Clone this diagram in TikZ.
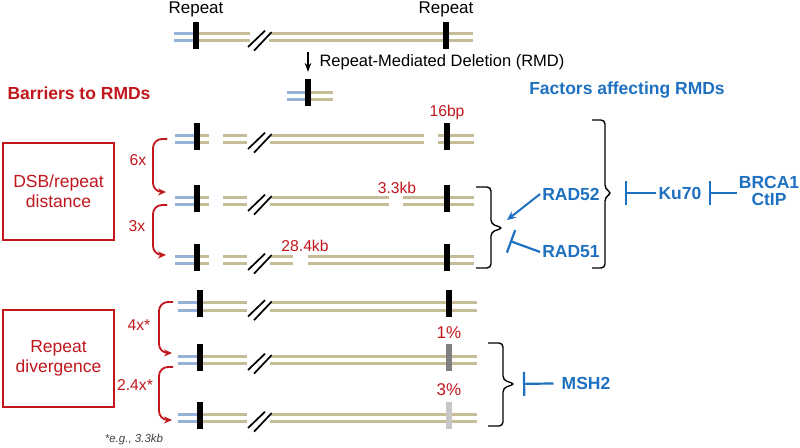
\documentclass[tikz,border=0pt]{standalone}
\usepackage{fontspec}
\setmainfont{Liberation Sans}
\usetikzlibrary{arrows.meta,positioning}
\definecolor{rmdred}{RGB}{192,22,28}
\definecolor{rmdblue}{RGB}{30,112,192}
\definecolor{strandtan}{RGB}{196,189,151}
\definecolor{strandblue}{RGB}{149,179,215}
\tikzset{>=Stealth}

\begin{document}
\begin{tikzpicture}[x=1pt, y=-1pt, font=\fontsize{17}{19}\selectfont,
	duplex/.style={draw=strandtan, line width=2.6pt, double=white, double distance=4.9pt},
	flank/.style={duplex, draw=strandblue},
	repeatbar/.style={fill=#1, draw=none, minimum width=6.5pt, minimum height=27pt, inner sep=0pt},
	repeatbar/.default=black,
	dnabreak/.pic={\draw[line width=1.7pt] (-11,10) -- (6,-6.3) (-5,13.7) -- (12.7,-5);},
	sizelabel/.style={text=rmdred, font=\fontsize{15.7}{18}\selectfont, inner sep=1pt},
	barrierbox/.style={draw=rmdred, line width=1.8pt, text=rmdred, minimum width=111pt,
		minimum height=97pt, align=center, font=\fontsize{17.5}{20}\selectfont},
	foldarrow/.style={draw=rmdred, line width=1.8pt, rounded corners=9pt, -{Stealth[length=8pt,width=7pt]}},
	factor/.style={text=rmdblue, font=\fontsize{17.5}{17}\selectfont\bfseries, inner sep=2pt},
	promote/.style={draw=rmdblue, line width=2pt, -{Stealth[length=9pt,width=8pt]}},
	inhibit/.style={draw=rmdblue, line width=2.2pt, -{Bar[width=24pt]}},
	bracket/.style={draw=black, line width=1.4pt, rounded corners=4pt}]
	\useasboundingbox (0,0) rectangle (800,447);

	% starting molecule and the deletion product
	\draw[flank]  (174,37) -- (196,37);
	\draw[duplex] (196,37) -- (250,37) (269,37) -- (473,37);
	\pic at (259,37) {dnabreak};
	\node[repeatbar] (tl) at (196,35) {};
	\node[repeatbar] (tr) at (446,35) {};
	\node[inner sep=1pt, above=3pt of tl] (tlname) {Repeat};
	\node[inner sep=1pt, above=3pt of tr] (trname) {Repeat};

	\draw[flank]  (287,96) -- (308,96);
	\draw[duplex] (308,96) -- (333,96);
	\node[repeatbar] (prodbar) at (308,92.5) {};
	\coordinate (rmdstart) at (308,52);
	\draw[->, line width=1.3pt, shorten >=7pt] (rmdstart) -- (prodbar);
	\node[anchor=west, font=\fontsize{16.5}{18}\selectfont] (rmdname) at (316,62) {Repeat-Mediated Deletion (RMD)};

	% DSB/repeat distance rows
	\foreach \i/\y/\ga/\gb in {1/139/424/438, 2/201/389/403, 3/260/293/308}{
		\draw[flank]  (175,\y) -- (197,\y);
		\draw[duplex] (197,\y) -- (209,\y) (223,\y) -- (247,\y) (270,\y) -- (\ga,\y) (\gb,\y) -- (474,\y);
		\pic at (259,\y) {dnabreak};
		\node[repeatbar] (l\i) at (197,{\y-3}) {};
		\node[repeatbar] (r\i) at (447,{\y-3}) {};
	}
	% repeat divergence rows
	\foreach \i/\y/\shade in {4/306.5/black, 5/360/black!50, 6/418/black!22}{
		\draw[flank]  (178,\y) -- (200,\y);
		\draw[duplex] (200,\y) -- (247,\y) (270,\y) -- (477,\y);
		\pic at (259,\y) {dnabreak};
		\node[repeatbar] (l\i) at (200,{\y-3}) {};
		\node[repeatbar=\shade] (r\i) at (449,{\y-3}) {};
	}
	\node[sizelabel, above=1pt of r1] (bp16) {16bp};
	\node[sizelabel] (kb33) at (397,187.5) {3.3kb};
	\node[sizelabel] (kb284) at (305,246) {28.4kb};
	\node[sizelabel, font=\fontsize{17}{19}\selectfont, above=4pt of r5] (div1) {1\%};
	\node[sizelabel, font=\fontsize{17}{19}\selectfont, above=4pt of r6] (div3) {3\%};

	% barriers
	\node[anchor=west, text=rmdred, font=\fontsize{17.5}{19}\selectfont\bfseries] (barriers) at (4,93) {Barriers to RMDs};
	\node[barrierbox] (distbox) at (58.5,191.5) {DSB/repeat\\distance};
	\node[barrierbox] (divbox) at (58.5,358.5) {Repeat\\divergence};

	\coordinate (fold1s) at (167,139); \coordinate (fold1e) at (166,192);
	\coordinate (fold2s) at (167,205); \coordinate (fold2e) at (166,255);
	\coordinate (fold3s) at (173,302); \coordinate (fold3e) at (172,353);
	\coordinate (fold4s) at (173,367); \coordinate (fold4e) at (172,420);
	\draw[foldarrow] (fold1s) -| ([xshift=-13pt]fold1e) -- (fold1e);
	\draw[foldarrow] (fold2s) -| ([xshift=-13pt]fold2e) -- (fold2e);
	\draw[foldarrow] (fold3s) -| ([xshift=-13pt]fold3e) -- (fold3e);
	\draw[foldarrow] (fold4s) -| ([xshift=-13pt]fold4e) -- (fold4e);
	\node[sizelabel] (fold1) at (138,160) {6x};
	\node[sizelabel] (fold2) at (137,226) {3x};
	\node[sizelabel] (fold3) at (139,325) {4x*};
	\node[sizelabel] (fold4) at (135,385) {2.4x*};
	\node[font=\fontsize{11.5}{13}\selectfont\itshape, text=black!75] (note) at (134,440) {*e.g., 3.3kb};

	% factors
	\node[factor] (factors) at (627,90) {Factors affecting RMDs};
	\draw[bracket] (592,120) -| (605,189) -- (612,193) -- (605,197) |- (592,268);
	\draw[bracket] (476,187) -| (491,224) -- (503,228) -- (491,232) |- (476,268);
	\draw[bracket] (488,343) -| (503,380) -- (515,384) -- (503,388) |- (488,426);
	\coordinate (bigtip) at (612,193);
	\coordinate (divtip) at (515,384);
	\coordinate (rad52end) at (507,220);
	\coordinate (rad51end) at (510,241);

	\node[factor] (rad52) at (571,194) {RAD52};
	\node[factor] (rad51) at (571,252) {RAD51};
	\node[factor] (ku70) at (680,193) {Ku70};
	\node[factor, align=center] (brca) at (769,191) {BRCA1\\CtIP};
	\node[factor] (msh2) at (586,383) {MSH2};

	\draw[promote] (rad52.west) -- (rad52end);
	\draw[inhibit] (rad51.west) -- (rad51end);
	\draw[inhibit, shorten >=13pt] (ku70) -- (bigtip);
	\draw[inhibit, shorten >=5pt] (brca.west |- ku70) -- (ku70);
	\draw[inhibit, shorten <=6pt, shorten >=8pt] (msh2) -- (divtip);
\end{tikzpicture}
\end{document}
